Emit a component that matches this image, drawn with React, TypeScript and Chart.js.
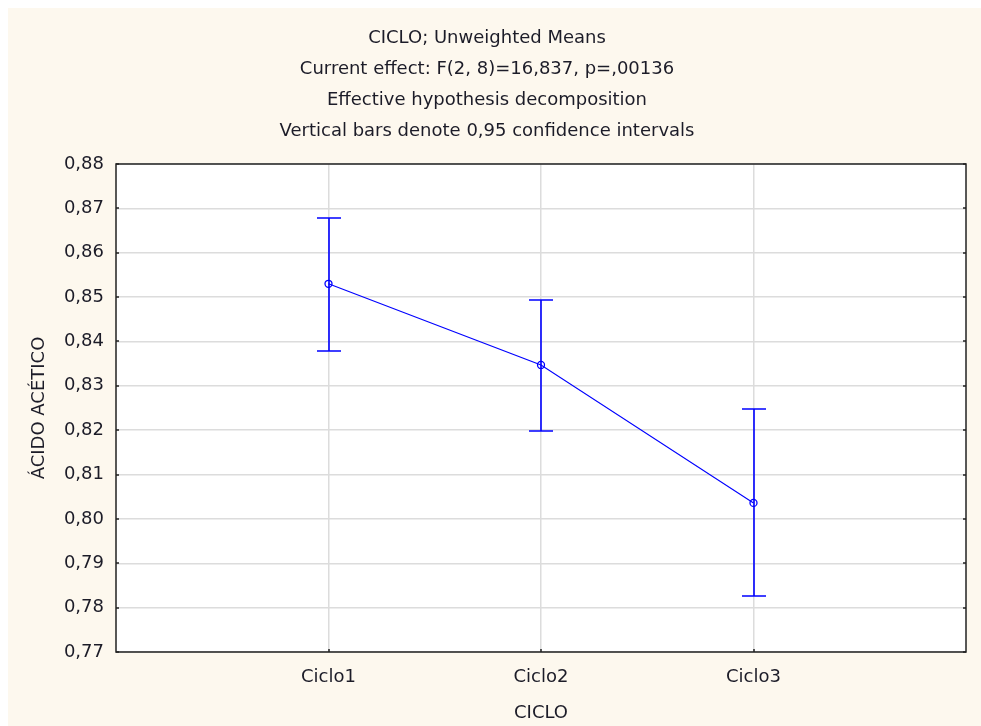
import React, { useEffect, useRef } from "react";
import { Chart, registerables } from "chart.js";

Chart.register(...registerables);

// Cycle means of acetic acid with 0.95 confidence limits
const categories = ["Ciclo1", "Ciclo2", "Ciclo3"];
const means = [0.8530, 0.8347, 0.8036];
const lowerCI = [0.8378, 0.8198, 0.7826];
const upperCI = [0.8679, 0.8494, 0.8248];
const yTicks = [0.77, 0.78, 0.79, 0.8, 0.81, 0.82, 0.83, 0.84, 0.85, 0.86, 0.87, 0.88];

const titleLines = [
  "CICLO; Unweighted Means",
  "Current effect: F(2, 8)=16,837, p=,00136",
  "Effective hypothesis decomposition",
  "Vertical bars denote 0,95 confidence intervals",
];

const FONT = "'DejaVu Sans', Verdana, sans-serif";
const FSIZE = 18;
const TEXT = "#1c1c28";
const BLUE = "#0000ff";

const fmt = (v: number) => v.toFixed(2).replace(".", ",");

// Confidence-interval whiskers plus inward tick marks on the frame
const extrasPlugin = {
  id: "ciExtras",
  afterDatasetsDraw(chart: any) {
    const { ctx, scales, chartArea } = chart;
    const xs = scales.x;
    const ys = scales.y;
    ctx.save();
    ctx.strokeStyle = BLUE;
    ctx.lineWidth = 1.6;
    means.forEach((_, i) => {
      const x = Math.round(xs.getPixelForValue(i + 1));
      const yLo = Math.round(ys.getPixelForValue(lowerCI[i]));
      const yHi = Math.round(ys.getPixelForValue(upperCI[i]));
      ctx.beginPath();
      ctx.moveTo(x, yLo);
      ctx.lineTo(x, yHi);
      ctx.moveTo(x - 12, yHi);
      ctx.lineTo(x + 12, yHi);
      ctx.moveTo(x - 12, yLo);
      ctx.lineTo(x + 12, yLo);
      ctx.stroke();
    });
    // inward tick marks
    ctx.strokeStyle = "#222";
    ctx.lineWidth = 1.5;
    ctx.beginPath();
    yTicks.forEach((t) => {
      const y = Math.round(ys.getPixelForValue(t));
      ctx.moveTo(chartArea.left, y);
      ctx.lineTo(chartArea.left + 3, y);
      ctx.moveTo(chartArea.right, y);
      ctx.lineTo(chartArea.right - 3, y);
    });
    categories.forEach((_, i) => {
      const x = Math.round(xs.getPixelForValue(i + 1));
      ctx.moveTo(x, chartArea.bottom);
      ctx.lineTo(x, chartArea.bottom - 3);
    });
    ctx.stroke();
    // frame
    ctx.strokeStyle = "#222";
    ctx.lineWidth = 1.5;
    ctx.strokeRect(chartArea.left, chartArea.top, chartArea.right - chartArea.left, chartArea.bottom - chartArea.top);
    ctx.restore();
  },
};

const plotBgPlugin = {
  id: "plotBg",
  beforeDraw(chart: any) {
    const { ctx, chartArea } = chart;
    ctx.save();
    ctx.fillStyle = "#ffffff";
    ctx.fillRect(chartArea.left, chartArea.top, chartArea.right - chartArea.left, chartArea.bottom - chartArea.top);
    ctx.restore();
  },
};

export default function App() {
  const canvasRef = useRef<HTMLCanvasElement | null>(null);

  useEffect(() => {
    if (!canvasRef.current) return;
    const chart = new Chart(canvasRef.current, {
      type: "line",
      data: {
        datasets: [
          {
            data: means.map((m, i) => ({ x: i + 1, y: m })),
            borderColor: BLUE,
            borderWidth: 1.1,
            backgroundColor: "#ffffff",
            pointRadius: 3.5,
            pointBorderWidth: 1.3,
            pointBorderColor: BLUE,
            pointBackgroundColor: "rgba(255,255,255,0)",
            tension: 0,
          },
        ],
      },
      plugins: [plotBgPlugin, extrasPlugin],
      options: {
        animation: false,
        responsive: true,
        maintainAspectRatio: false,
        layout: { padding: { left: 0, right: 15, top: 0, bottom: 0 } },
        plugins: {
          legend: { display: false },
          tooltip: { enabled: false },
          title: {
            display: true,
            text: titleLines,
            color: TEXT,
            font: { family: FONT, size: FSIZE, weight: "normal", lineHeight: 31 / FSIZE },
            padding: { top: 15, bottom: 17 },
          },
        },
        scales: {
          x: {
            type: "linear",
            min: 0,
            max: 4,
            afterBuildTicks: (scale: any) => {
              scale.ticks = categories.map((_, i) => ({ value: i + 1 }));
            },
            afterFit: (scale: any) => {
              scale.height = 74;
            },
            ticks: {
              color: TEXT,
              font: { family: FONT, size: FSIZE },
              padding: 15,
              maxRotation: 0,
              callback: (v: any) => categories[Number(v) - 1] ?? "",
            },
            grid: { color: "#dcdcdc", lineWidth: 1.5, drawTicks: false },
            border: { display: false },
            title: {
              display: true,
              text: "CICLO",
              color: TEXT,
              font: { family: FONT, size: FSIZE },
              padding: { top: 0, bottom: 2 },
            },
          },
          y: {
            type: "linear",
            min: 0.77,
            max: 0.88,
            afterBuildTicks: (scale: any) => {
              scale.ticks = yTicks.map((v) => ({ value: v }));
            },
            afterFit: (scale: any) => {
              scale.width = 108;
            },
            ticks: {
              color: TEXT,
              font: { family: FONT, size: FSIZE },
              padding: 12,
              callback: (v: any) => fmt(Number(v)),
            },
            grid: { color: "#dcdcdc", lineWidth: 1.5, drawTicks: false },
            border: { display: false },
            title: {
              display: true,
              text: "ÁCIDO ACÉTICO",
              color: TEXT,
              font: { family: FONT, size: FSIZE },
              padding: { top: 21, bottom: 0 },
            },
          },
        },
      },
    } as any);
    return () => chart.destroy();
  }, []);

  return (
    <div
      style={{
        position: "fixed",
        left: 8,
        top: 8,
        right: 0,
        bottom: 0,
        background: "#fdf8ee",
      }}
    >
      <canvas ref={canvasRef} />
    </div>
  );
}
